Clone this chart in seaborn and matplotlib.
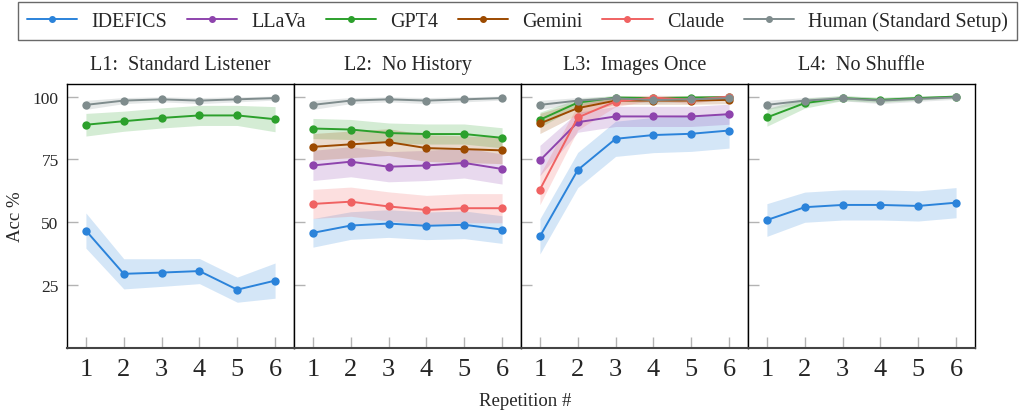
import matplotlib
matplotlib.use("Agg")
import matplotlib.pyplot as plt
import seaborn as sns
import pandas as pd
import numpy as np

# ---------------- data ----------------
repetitions = [1, 2, 3, 4, 5, 6]
models = ["IDEFICS", "LLaVa", "GPT4", "Gemini", "Claude", "Human (Standard Setup)"]
panel_titles = ["L1:  Standard Listener", "L2:  No History", "L3:  Images Once", "L4:  No Shuffle"]
y_ticks = [25, 50, 75, 100]

# L1: Standard Listener
L1_IDEFICS = [46.7, 29.5, 30.0, 30.6, 23.2, 26.8]
L1_IDEFICS_ERR = [7.0, 6.0, 5.5, 5.0, 5.0, 7.0]
L1_GPT4 = [88.8, 90.2, 91.5, 92.5, 92.5, 91.0]
L1_GPT4_ERR = [4.5, 4.0, 4.0, 4.0, 4.0, 5.0]
L1_HUMAN = [96.7, 98.4, 98.9, 98.4, 98.9, 99.4]
L1_HUMAN_ERR = [1.8, 1.2, 1.0, 1.2, 1.0, 0.8]

# L2: No History
L2_IDEFICS = [45.8, 48.7, 49.5, 48.6, 49.0, 47.1]
L2_IDEFICS_ERR = [5.7, 5.5, 5.5, 5.5, 5.5, 5.5]
L2_LLAVA = [72.6, 74.1, 72.1, 72.6, 73.6, 71.2]
L2_LLAVA_ERR = [6.0, 6.0, 6.0, 6.0, 6.0, 6.0]
L2_GPT4 = [87.3, 86.9, 85.5, 85.1, 85.1, 83.6]
L2_GPT4_ERR = [4.0, 4.0, 4.0, 4.0, 4.0, 4.0]
L2_GEMINI = [80.0, 81.0, 81.9, 79.5, 79.1, 78.6]
L2_GEMINI_ERR = [5.3, 5.3, 5.3, 5.3, 5.3, 5.3]
L2_CLAUDE = [57.3, 58.2, 56.3, 54.9, 55.6, 55.6]
L2_CLAUDE_ERR = [5.8, 5.8, 5.8, 5.8, 5.8, 5.8]
L2_HUMAN = [96.7, 98.4, 98.9, 98.4, 98.9, 99.4]
L2_HUMAN_ERR = [1.8, 1.2, 1.0, 1.2, 1.0, 0.8]

# L3: Images Once
L3_IDEFICS = [44.4, 70.8, 83.2, 84.7, 85.2, 86.5]
L3_IDEFICS_ERR = [7.0, 7.0, 7.0, 7.0, 7.0, 7.0]
L3_LLAVA = [74.6, 89.8, 92.1, 92.1, 92.1, 93.0]
L3_LLAVA_ERR = [6.0, 4.0, 4.0, 4.0, 4.0, 4.0]
L3_GPT4 = [90.8, 97.6, 99.6, 99.4, 99.6, 99.8]
L3_GPT4_ERR = [3.0, 1.5, 0.8, 0.8, 0.8, 0.6]
L3_GEMINI = [89.3, 95.4, 98.4, 98.4, 98.4, 98.7]
L3_GEMINI_ERR = [4.0, 2.5, 1.5, 1.5, 1.5, 1.5]
L3_CLAUDE = [63.0, 91.7, 98.0, 99.6, 98.7, 100.0]
L3_CLAUDE_ERR = [6.0, 5.0, 2.0, 1.0, 1.5, 0.5]
L3_HUMAN = [96.7, 98.4, 99.3, 98.6, 98.9, 99.4]
L3_HUMAN_ERR = [1.8, 1.2, 1.0, 1.2, 1.0, 0.8]

# L4: No Shuffle
L4_IDEFICS = [50.9, 56.0, 56.9, 56.9, 56.5, 57.8]
L4_IDEFICS_ERR = [6.5, 6.0, 6.0, 6.0, 6.0, 6.0]
L4_GPT4 = [91.7, 97.4, 99.4, 98.7, 99.4, 100.0]
L4_GPT4_ERR = [3.5, 2.0, 1.0, 1.0, 0.8, 0.5]
L4_HUMAN = [96.7, 98.4, 99.3, 98.4, 99.1, 99.7]
L4_HUMAN_ERR = [1.8, 1.2, 1.0, 1.2, 1.0, 0.8]

colors = {
    "IDEFICS": "#2b83da",
    "LLaVa": "#8e44ad",
    "GPT4": "#2ca02c",
    "Gemini": "#9c4a00",
    "Claude": "#f06262",
    "Human (Standard Setup)": "#7f8c8d",
}

panels = [
    {"IDEFICS": (L1_IDEFICS, L1_IDEFICS_ERR), "GPT4": (L1_GPT4, L1_GPT4_ERR),
     "Human (Standard Setup)": (L1_HUMAN, L1_HUMAN_ERR)},
    {"IDEFICS": (L2_IDEFICS, L2_IDEFICS_ERR), "LLaVa": (L2_LLAVA, L2_LLAVA_ERR),
     "GPT4": (L2_GPT4, L2_GPT4_ERR), "Gemini": (L2_GEMINI, L2_GEMINI_ERR),
     "Claude": (L2_CLAUDE, L2_CLAUDE_ERR), "Human (Standard Setup)": (L2_HUMAN, L2_HUMAN_ERR)},
    {"IDEFICS": (L3_IDEFICS, L3_IDEFICS_ERR), "LLaVa": (L3_LLAVA, L3_LLAVA_ERR),
     "GPT4": (L3_GPT4, L3_GPT4_ERR), "Gemini": (L3_GEMINI, L3_GEMINI_ERR),
     "Claude": (L3_CLAUDE, L3_CLAUDE_ERR), "Human (Standard Setup)": (L3_HUMAN, L3_HUMAN_ERR)},
    {"IDEFICS": (L4_IDEFICS, L4_IDEFICS_ERR), "GPT4": (L4_GPT4, L4_GPT4_ERR),
     "Human (Standard Setup)": (L4_HUMAN, L4_HUMAN_ERR)},
]

# ---------------- style ----------------
sns.set_style("white")
plt.rcParams["font.family"] = ["Liberation Serif", "DejaVu Serif"]
plt.rcParams["mathtext.fontset"] = "dejavuserif"

W, H = 1023, 414
fig = plt.figure(figsize=(W / 100, H / 100), dpi=100)

ax_left, ax_right_edge = 67, 975
ax_top, ax_bottom = 85, 349
pw = (ax_right_edge - ax_left) / 4

axes = []
for i, panel in enumerate(panels):
    ax = fig.add_axes([(ax_left + i * pw) / W, (H - ax_bottom) / H, pw / W, (ax_bottom - ax_top) / H])
    axes.append(ax)
    rows = []
    for m in models:
        if m in panel:
            vals, errs = panel[m]
            for r, v, e in zip(repetitions, vals, errs):
                rows.append({"rep": r, "acc": v, "err": e, "model": m})
    df = pd.DataFrame(rows)
    for m in models:
        if m in panel:
            d = df[df["model"] == m]
            ax.fill_between(d["rep"], d["acc"] - d["err"], d["acc"] + d["err"],
                            color=colors[m], alpha=0.2, linewidth=0)
    sns.lineplot(data=df, x="rep", y="acc", hue="model", hue_order=[m for m in models if m in panel],
                 palette=colors, marker="o", markersize=6, markeredgewidth=0, linewidth=1.4,
                 ax=ax, legend=False, errorbar=None)
    ax.set_xlim(0.5, 6.5)
    ax.set_ylim(0, 105)
    ax.set_xticks(repetitions)
    ax.set_xticklabels([str(r) for r in repetitions], fontsize=19)
    ax.set_yticks(y_ticks)
    if i == 0:
        ax.set_yticklabels([str(t) for t in y_ticks], fontsize=12.5)
    else:
        ax.set_yticklabels([])
    ax.tick_params(axis="both", direction="in", length=8, width=1, color="#b3b3b3", left=True, bottom=True)
    ax.tick_params(axis="x", pad=7)
    ax.tick_params(axis="y", pad=6)
    ax.set_xlabel("")
    ax.set_ylabel("")
    ax.set_title(panel_titles[i], fontsize=14.5, pad=11)
    for s in ax.spines.values():
        s.set_color("black")
        s.set_linewidth(1.0)
    ax.spines["bottom"].set_color("#444444")
    ax.spines["bottom"].set_linewidth(1.5)
    ax.grid(False)

fig.text(15 / W, 1 - 217 / H, "Acc %", rotation=90, ha="center", va="center", fontsize=13.5)
fig.text(525 / W, 1 - 402 / H, "Repetition #", ha="center", va="center", fontsize=13.5)

handles = [plt.Line2D([0], [0], color=colors[m], marker="o", markersize=4, linewidth=1.4) for m in models]
leg = fig.legend(handles, models, loc="center left",
                 bbox_to_anchor=(18 / W, 1 - 42 / H, (1017 - 18) / W, 40 / H),
                 mode="expand", ncol=6, fontsize=14.5, frameon=True, fancybox=False,
                 handlelength=2.5, handletextpad=0.7, borderaxespad=0, borderpad=0.45)
leg.get_frame().set_edgecolor("#444444")
leg.get_frame().set_linewidth(1.0)

fig.savefig("out.png", dpi=100)
